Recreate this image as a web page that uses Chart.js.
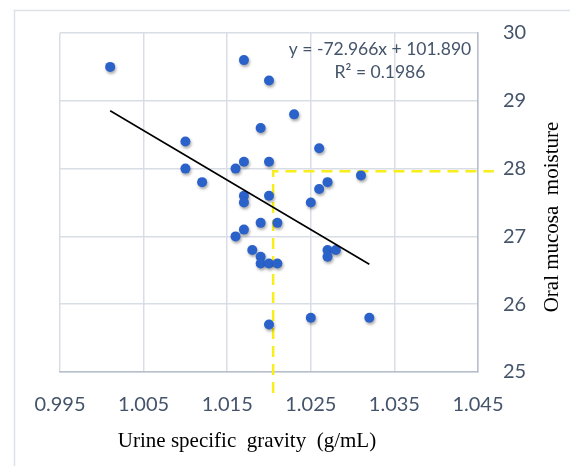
<!DOCTYPE html>
<html>
<head>
<meta charset="utf-8">
<script src="https://cdn.jsdelivr.net/npm/chart.js@4.4.1/dist/chart.umd.min.js"></script>
<style>
  html, body { margin: 0; padding: 0; background: #ffffff; }
  #wrap { width: 570px; height: 466px; position: relative; }
</style>
</head>
<body>
<div id="wrap"><canvas id="c" width="570" height="466"></canvas></div>
<script>
// ---- data ----
const xValues = [1.001, 1.017, 1.020, 1.023, 1.019, 1.010, 1.010, 1.012, 1.016, 1.017,
                 1.020, 1.026, 1.017, 1.017, 1.020, 1.025, 1.031, 1.027, 1.026, 1.019,
                 1.021, 1.017, 1.016, 1.018, 1.019, 1.019, 1.020, 1.021, 1.020, 1.025,
                 1.027, 1.028, 1.027, 1.032];
const yValues = [29.5, 29.6, 29.3, 28.8, 28.6, 28.4, 28.0, 27.8, 28.0, 28.1,
                 28.1, 28.3, 27.6, 27.5, 27.6, 27.5, 27.9, 27.8, 27.7, 27.2,
                 27.2, 27.1, 27.0, 26.8, 26.7, 26.6, 26.6, 26.6, 25.7, 25.8,
                 26.8, 26.8, 26.7, 25.8];
const trendX = [1.001, 1.032];
const trendY = [28.853, 26.590];
const guideX = [1.0205, 1.0205, 1.0469];
const guideY = [24.69, 27.96, 27.96];
const xTicks = [0.995, 1.005, 1.015, 1.025, 1.035, 1.045];
const yTicks = [25, 26, 27, 28, 29, 30];
const equationLines = ["y = -72.966x + 101.890", "R\u00B2 = 0.1986"];
const xTitle = "Urine specific  gravity  (g/mL)";
const yTitle = "Oral mucosa  moisture";

const toPts = (xs, ys) => xs.map((x, i) => ({ x: x, y: ys[i] }));

const tickColor = '#44546A';
const gridColor = '#D9DEE6';
const axisColor = '#B7BFCB';

const decorPlugin = {
  id: 'decor',
  beforeDraw(chart) {
    const ctx = chart.ctx;
    ctx.save();
    ctx.strokeStyle = '#DDE1E8';
    ctx.lineWidth = 1.5;
    ctx.beginPath();
    ctx.moveTo(14.5, 470);
    ctx.lineTo(14.5, 10.5);
    ctx.lineTo(575, 10.5);
    ctx.stroke();
    ctx.restore();
  },
  beforeDatasetDraw(chart, args) {
    if (args.index === 0) {
      const ctx = chart.ctx;
      ctx.save();
      ctx.shadowColor = 'rgba(0,0,0,0.35)';
      ctx.shadowBlur = 3;
      ctx.shadowOffsetX = 1;
      ctx.shadowOffsetY = 2;
    }
  },
  afterDatasetDraw(chart, args) {
    if (args.index === 0) chart.ctx.restore();
  },
  afterDraw(chart) {
    const ctx = chart.ctx;
    const a = chart.chartArea;
    ctx.save();
    // equation
    ctx.fillStyle = tickColor;
    ctx.font = '17.5px Lato';
    ctx.textAlign = 'center';
    ctx.textBaseline = 'middle';
    ctx.fillText(equationLines[0], a.left + 320, a.top + 16);
    ctx.fillText(equationLines[1], a.left + 320, a.top + 39);
    // axis titles
    ctx.fillStyle = '#000000';
    ctx.font = '21px "Liberation Serif"';
    ctx.fillText(xTitle, 247, 441);
    ctx.translate(552, 217);
    ctx.rotate(-Math.PI / 2);
    ctx.fillText(yTitle, 0, 0);
    ctx.restore();
  }
};

new Chart(document.getElementById('c'), {
  data: {
    datasets: [
      {
        type: 'scatter',
        data: toPts(xValues, yValues),
        backgroundColor: '#2A62C9',
        borderColor: '#2A62C9',
        borderWidth: 0,
        pointRadius: 5,
        order: 2
      },
      {
        type: 'line',
        data: toPts(trendX, trendY),
        borderColor: '#000000',
        borderWidth: 1.6,
        pointRadius: 0,
        fill: false,
        order: 1
      },
      {
        type: 'line',
        data: toPts(guideX, guideY),
        borderColor: '#F7EE1A',
        borderWidth: 2.5,
        borderDash: [11, 7],
        pointRadius: 0,
        fill: false,
        clip: false,
        order: 3
      }
    ]
  },
  options: {
    responsive: false,
    animation: false,
    devicePixelRatio: 1,
    layout: { padding: { left: 60, top: 33, right: 0, bottom: 0 } },
    plugins: { legend: { display: false }, tooltip: { enabled: false } },
    scales: {
      x: {
        type: 'linear',
        position: 'bottom',
        min: 0.995,
        max: 1.045,
        afterBuildTicks: (axis) => { axis.ticks = xTicks.map(v => ({ value: v })); },
        afterFit: (axis) => { axis.height = 94; },
        grid: { color: gridColor, lineWidth: 1.5, drawTicks: true, tickLength: 21, tickColor: 'rgba(0,0,0,0)' },
        border: { color: axisColor, width: 1.5 },
        ticks: {
          color: tickColor,
          font: { family: 'Lato', size: 20 },
          padding: 0,
          maxRotation: 0,
          autoSkip: false,
          callback: (v) => Number(v).toFixed(3)
        }
      },
      y: {
        type: 'linear',
        position: 'right',
        min: 25,
        max: 30,
        afterBuildTicks: (axis) => { axis.ticks = yTicks.map(v => ({ value: v })); },
        afterFit: (axis) => { axis.width = 92; },
        grid: { color: gridColor, lineWidth: 1.5, drawTicks: true, tickLength: 25, tickColor: 'rgba(0,0,0,0)' },
        border: { color: axisColor, width: 1.5 },
        ticks: {
          color: tickColor,
          font: { family: 'Lato', size: 20 },
          padding: 0,
          autoSkip: false,
          callback: (v) => String(v)
        }
      }
    }
  },
  plugins: [decorPlugin]
});
</script>
</body>
</html>
